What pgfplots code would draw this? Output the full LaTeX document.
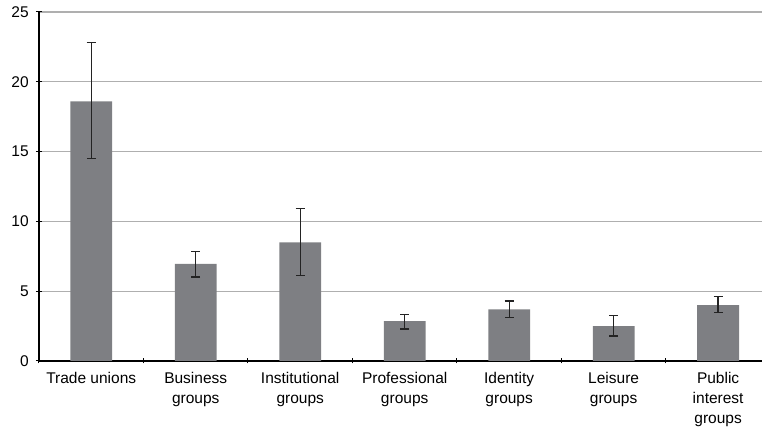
\documentclass[border=0pt]{standalone}
\usepackage{fontspec}
\setmainfont{Liberation Sans}
\usepackage{pgfplots}
\usepackage{pgfplotstable}
\pgfplotsset{compat=1.18}

\definecolor{barfill}{RGB}{126,127,131}
\definecolor{gridgray}{RGB}{175,175,175}
\definecolor{errcol}{RGB}{35,35,35}

\pgfplotstableread{
x  y     ep    em
0  18.6  4.20  4.10
1  6.95  0.88  0.93
2  8.50  2.40  2.40
3  2.85  0.48  0.56
4  3.70  0.60  0.60
5  2.50  0.74  0.70
6  4.00  0.62  0.52
}\groups

\begin{document}
\fontsize{15.5}{20}\selectfont
\begin{tikzpicture}
\begin{axis}[
    scale only axis,
    width=723pt, height=349pt,
    ybar, bar width=0.4,
    xmin=-0.5, xmax=6.42,
    ymin=0, ymax=25,
    ytick={0,5,...,25},
    xtick={0,...,6},
    xticklabels={Trade unions, Business\\groups, Institutional\\groups,
      Professional\\groups, Identity\\groups, Leisure\\groups,
      Public\\interest\\groups},
    x tick label style={align=center, font=\fontsize{15.5}{20}\selectfont, yshift=-3pt},
    y tick label style={font=\fontsize{15.5}{20}\selectfont, xshift=-2pt},
    major x tick style={draw=none},
    minor xtick={-0.5,0.5,...,5.5},
    minor tick length=5pt,
    major tick length=6pt,
    tick align=outside,
    tick style={black, line width=1pt},
    axis x line=bottom, axis y line=left,
    axis line style={-, black, line width=1.3pt},
    ymajorgrids,
    grid style={gridgray, line width=1.2pt},
    /pgf/number format/assume math mode=true,
]
\addplot[fill=barfill, draw=none,
    error bars/.cd, y dir=both, y explicit,
    error bar style={errcol, line width=1.3pt},
    error mark options={rotate=90, mark size=4.5pt, errcol, line width=1.3pt}]
    table[x=x, y=y, y error plus=ep, y error minus=em] {\groups};
\coordinate (bl) at (rel axis cs:0,0);
\coordinate (tr) at (rel axis cs:1,1);
\end{axis}
\pgfresetboundingbox
\path ([shift={(-39pt,-69pt)}]bl) rectangle ([shift={(0pt,12pt)}]tr);
\end{tikzpicture}
\end{document}
